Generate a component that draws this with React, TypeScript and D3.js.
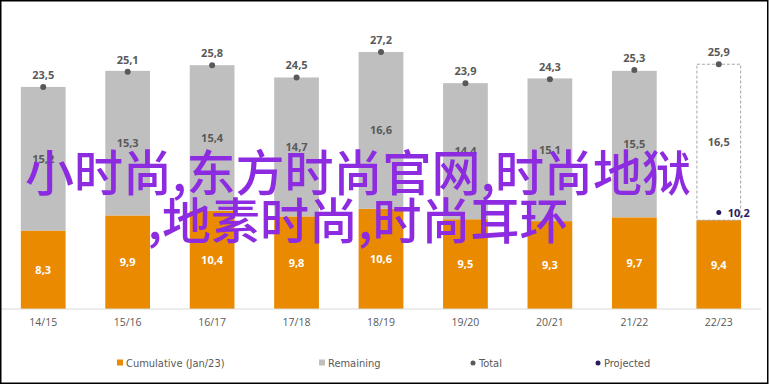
import React from 'react';
import * as d3 from 'd3';

const categories = ['14/15', '15/16', '16/17', '17/18', '18/19', '19/20', '20/21', '21/22', '22/23'];
const cumulative = [8.3, 9.9, 10.4, 9.8, 10.6, 9.5, 9.3, 9.7, 9.4];
const remaining = [15.2, 15.3, 15.4, 14.7, 16.6, 14.4, 15.1, 15.5, 16.5];
const totals = [23.5, 25.1, 25.8, 24.5, 27.2, 23.9, 24.3, 25.3, 25.9];
const projected = [{ cat: '22/23', value: 10.2 }];
const projectedCats = ['22/23'];
const legendItems = ['Cumulative (Jan/23)', 'Remaining', 'Total', 'Projected'];
const watermark = ['小时尚,东方时尚官网,时尚地狱', ',地素时尚,时尚耳环'];

const W = 770;
const H = 385;
const ORANGE = '#ea8a00';
const GRAY = '#bfbfbf';
const DARK = '#595959';
const NAVY = '#2b1b5e';
const FONT = "'Open Sans', 'DejaVu Sans', sans-serif";

const fmt = (v: number) => v.toFixed(1).replace('.', ',');

export default function App() {
  const x = d3.scaleBand<string>().domain(categories).range([1, 761]).paddingInner(0.47).paddingOuter(0.235);
  const y = d3.scaleLinear().domain([0, 30]).range([309, 25.5]);
  const bw = x.bandwidth();

  const legendX = [120, 322, 473, 598];

  return (
    <svg width={W} height={H} style={{ position: 'absolute', left: 0, top: 0 }}>
      <rect x={0} y={0} width={W} height={H} fill='#fff' />
      {/* bars */}
      {categories.map((c, i) => {
        const x0 = x(c)!;
        const cx = x0 + bw / 2;
        const top = cumulative[i] + remaining[i];
        const isProj = projectedCats.includes(c);
        return (
          <g key={c}>
            <rect x={x0} y={y(cumulative[i])} width={bw} height={y(0) - y(cumulative[i])} fill={ORANGE} />
            {isProj ? (
              <rect
                x={x0 + 0.5}
                y={y(totals[i])}
                width={bw - 1}
                height={y(cumulative[i]) - y(totals[i])}
                fill='none'
                stroke='#a6a6a6'
                strokeDasharray='3,2'
              />
            ) : (
              <rect x={x0} y={y(top)} width={bw} height={y(cumulative[i]) - y(top)} fill={GRAY} />
            )}
            <text x={cx} y={y(cumulative[i] / 2) + 4} textAnchor='middle' fill='#fff' fontSize={11} fontWeight={700} fontFamily={FONT}>
              {fmt(cumulative[i])}
            </text>
            <text x={cx} y={y(cumulative[i] + remaining[i] / 2) + 4} textAnchor='middle' fill={DARK} fontSize={11} fontWeight={700} fontFamily={FONT}>
              {fmt(remaining[i])}
            </text>
            <circle cx={cx} cy={y(totals[i])} r={3} fill={DARK} />
            <text x={cx} y={y(totals[i]) - 8} textAnchor='middle' fill={DARK} fontSize={11} fontWeight={700} fontFamily={FONT}>
              {fmt(totals[i])}
            </text>
            <text x={cx} y={326} textAnchor='middle' fill={DARK} fontSize={10.5} fontFamily={FONT}>
              {c}
            </text>
          </g>
        );
      })}
      {projected.map((p) => {
        const cx = x(p.cat)! + bw / 2;
        return (
          <g key={p.cat}>
            <circle cx={cx} cy={y(p.value)} r={2.5} fill={NAVY} />
            <text x={cx + 9} y={y(p.value) + 4} fill={NAVY} fontSize={11} fontWeight={700} fontFamily={FONT}>
              {fmt(p.value)}
            </text>
          </g>
        );
      })}
      {/* axis */}
      <line x1={1} x2={761} y1={y(0)} y2={y(0)} stroke='#d9d9d9' strokeWidth={1} />
      {/* legend */}
      {legendItems.map((l, i) => (
        <g key={l} transform={`translate(${legendX[i]},363)`}>
          {i < 2 ? (
            <rect x={-3} y={-3.5} width={6} height={6} fill={i === 0 ? ORANGE : GRAY} />
          ) : (
            <circle cx={0} cy={0} r={2.5} fill={i === 2 ? DARK : NAVY} />
          )}
          <text x={6} y={4} fill={DARK} fontSize={11} fontFamily="'DejaVu Sans Condensed', 'DejaVu Sans', sans-serif">
            {l}
          </text>
        </g>
      ))}
      {/* watermark */}
      {watermark.map((t, i) => (
        <text
          key={i}
          x={358}
          y={191 + i * 48}
          textAnchor='middle'
          fill='#8c2be0'
          fontSize={49}
          fontFamily="'Noto Sans CJK SC', sans-serif"
          fontWeight={500}
        >
          {t}
        </text>
      ))}
      {/* frame */}
      <rect x={0.75} y={0.75} width={767} height={382.5} fill='none' stroke='#000' strokeWidth={1.5} />
    </svg>
  );
}
